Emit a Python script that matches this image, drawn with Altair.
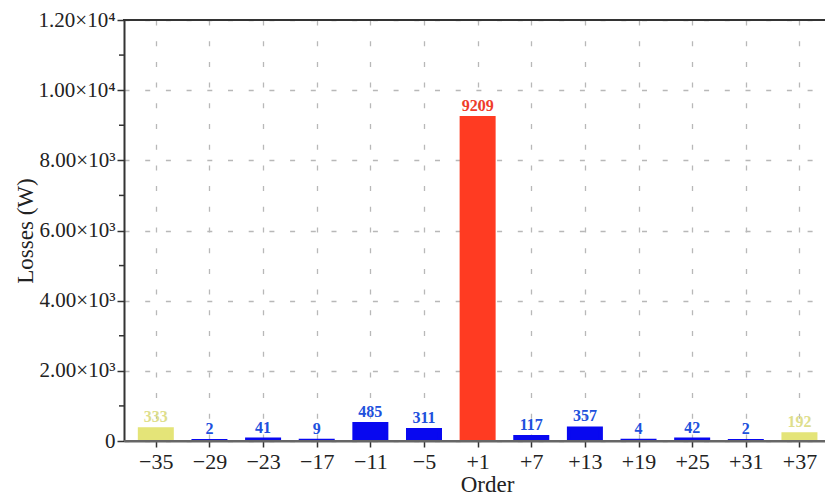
import altair as alt
import pandas as pd

orders = [-35, -29, -23, -17, -11, -5, 1, 7, 13, 19, 25, 31, 37]
losses = [333, 2, 41, 9, 485, 311, 9209, 117, 357, 4, 42, 2, 192]
groups = ["edge", "harm", "harm", "harm", "harm", "harm", "fund",
          "harm", "harm", "harm", "harm", "harm", "edge"]
minor_ticks = [1000, 3000, 5000, 7000, 9000, 11000]
major_ticks = [0, 2000, 4000, 6000, 8000, 10000, 12000]

df = pd.DataFrame({"order": orders, "loss": losses, "group": groups})
minor_df = pd.DataFrame({"v": minor_ticks})

W, H = 701, 421
FONT = "Liberation Serif"

xscale = alt.Scale(domain=[-38, 39.3], nice=False, zero=False)
yscale = alt.Scale(domain=[0, 12000], nice=False)

bar_scale = alt.Scale(domain=["edge", "harm", "fund"],
                      range=["#e4e478", "#0808f0", "#ff3b22"])
text_scale = alt.Scale(domain=["edge", "harm", "fund"],
                       range=["#dede8c", "#2050dd", "#f03c2a"])

x_enc = alt.X("order:Q", scale=xscale, title="Order",
              axis=alt.Axis(values=orders,
                            labelExpr="datum.value > 0 ? '+' + datum.value : (datum.value < 0 ? '−' + (-datum.value) : '0')",
                            labelFont=FONT, labelFontSize=22, labelColor="#222",
                            labelPadding=4, tickSize=6, tickWidth=1.5, tickColor="#333",
                            domainColor="#666", domainWidth=2,
                            grid=True, gridDash=[5, 15.7], gridColor="#b8b8b8", gridWidth=1.3,
                            titleFont=FONT, titleFontSize=23, titleFontWeight="normal",
                            titleColor="#222", titleX=363, titleY=50,
                            titleBaseline="alphabetic", titleAlign="center"))

y_enc = alt.Y("loss:Q", scale=yscale, title="Losses (W)",
              axis=alt.Axis(values=major_ticks,
                            labelExpr="datum.value == 0 ? '0' : (datum.value < 10000 ? format(datum.value/1000, '.2f') + '×10³' : format(datum.value/10000, '.2f') + '×10⁴')",
                            labelFont=FONT, labelFontSize=21, labelColor="#222",
                            labelPadding=2, tickSize=7, tickWidth=1.5, tickColor="#333",
                            domainColor="#333", domainWidth=2,
                            grid=True, gridDash=[5, 15.7], gridColor="#b8b8b8", gridWidth=1.3,
                            titleFont=FONT, titleFontSize=23, titleFontWeight="normal",
                            titleColor="#222", titleX=-99, titleY=H / 2, titleAngle=-90,
                            titleAlign="center", titleBaseline="middle"))

bars = alt.Chart(df).mark_bar(size=32, strokeWidth=4, clip=True).encode(
    x=x_enc,
    y=y_enc,
    color=alt.Color("group:N", scale=bar_scale, legend=None),
    stroke=alt.Stroke("group:N", scale=bar_scale, legend=None),
)

labels = alt.Chart(df).mark_text(font=FONT, fontSize=16, fontWeight="bold",
                                 baseline="alphabetic", dy=-7, clip=True).encode(
    x=alt.X("order:Q", scale=xscale),
    y=alt.Y("loss:Q", scale=yscale),
    text=alt.Text("loss:Q", format="d"),
    color=alt.Color("group:N", scale=text_scale, legend=None),
)

base_line = alt.Chart(df).mark_rule(color="#666", strokeWidth=2).encode(
    y=alt.datum(0, scale=yscale),
    x=alt.value(0), x2=alt.value(W),
)

top_line = alt.Chart(df).mark_rule(color="#333", strokeWidth=2).encode(
    y=alt.value(0), x=alt.value(-1), x2=alt.value(W),
)

minor = alt.Chart(minor_df).mark_rule(color="#333", strokeWidth=1.5).encode(
    y=alt.Y("v:Q", scale=yscale),
    x=alt.value(-5), x2=alt.value(0),
)

chart = alt.layer(bars, base_line, labels, top_line, minor).resolve_scale(
    color="independent"
).properties(
    width=W, height=H,
    autosize=alt.AutoSizeParams(type="none"),
    padding={"left": 116, "top": 12, "right": 0, "bottom": 55},
).configure_view(stroke=None).configure(background="white")

chart.save("out.html", embed_options={"renderer": "svg", "actions": False})
